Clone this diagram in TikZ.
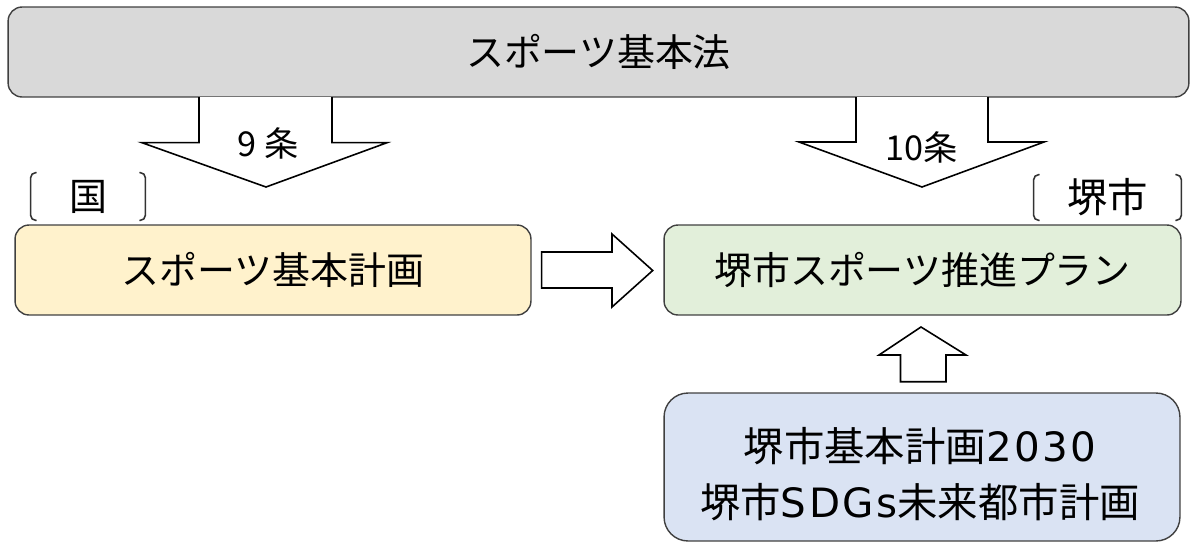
\documentclass[tikz,border=0pt]{standalone}
\usepackage{fontspec}
\setmainfont{Noto Sans CJK JP}
\newfontfamily\latinfont[LetterSpace=6]{DejaVu Sans}
\newcommand{\lat}[1]{{\fontsize{23}{31.9}\latinfont #1}}
\usetikzlibrary{calc, positioning}

\definecolor{grayfill}{HTML}{D9D9D9}
\definecolor{yellowfill}{HTML}{FFF2CC}
\definecolor{greenfill}{HTML}{E2EFDA}
\definecolor{bluefill}{HTML}{DAE3F3}

\begin{document}
\begin{tikzpicture}[
	x=0.02cm, y=-0.02cm,
	plan box/.style = {draw=black!75, line width=0.8pt, rounded corners=0.28cm, minimum height=1.8cm, inner sep=0pt, font=\fontsize{21.6}{31.9}\selectfont},
	block arrow/.style = {draw=black, fill=white, line width=0.9pt, line join=miter},
	article label/.style = {font=\fontsize{19.5}{24}\selectfont, inner sep=0pt},
	level label/.style = {font=\fontsize{21.6}{26}\selectfont, inner sep=0pt},
	bracket/.style = {draw=black!80, line width=0.9pt, rounded corners=0.1cm}
]

\useasboundingbox (0,0) rectangle (1197,542);

% boxes
\node[plan box, fill=grayfill, minimum width=23.62cm] (law) at (598.5,52) {スポーツ基本法};
\node[plan box, fill=yellowfill, minimum width=10.32cm] (national) at (273,270) {スポーツ基本計画};
\node[plan box, fill=greenfill, minimum width=10.34cm] (city) at (922.5,270) {堺市スポーツ推進プラン};
\node[plan box, fill=bluefill, minimum width=10.32cm, minimum height=2.96cm, rounded corners=0.48cm] (sdgs) at (922,467) {};
\node[align=center, inner sep=0pt, font=\fontsize{23}{31.9}\selectfont] (sdgs text) at (920,474) {堺市基本計画\lat{2030}\\堺市\lat{SDGs}未来都市計画};

% block arrows
\draw[block arrow] (199,97) -- (199,142.7) -- (142,142.7) -- (266,187) -- (387,142.7) -- (332,142.7) -- (332,97);
\draw[block arrow] (856,97) -- (856,142) -- (799,142) -- (922,187) -- (1044,142) -- (988,142) -- (988,97);
\draw[block arrow] (541.7,252) -- (612,252) -- (612,234) -- (652.7,270.5) -- (612,307) -- (612,288) -- (541.7,288) -- cycle;
\draw[block arrow] (900.5,381.7) -- (900.5,355) -- (879,355) -- (921,327) -- (966,355) -- (946,355) -- (946,381.7) -- cycle;

\node[article label] (art9) at (268,143) {9 条};
\node[article label] (art10) at (922,147) {10条};

% bracket labels
\node[level label, minimum width=2.28cm, minimum height=0.94cm] (kuni) at (88,196.5) {国};
\draw[bracket] ([xshift=0.12cm]kuni.north west) -- (kuni.north west) -- (kuni.south west) -- ([xshift=0.12cm]kuni.south west);
\draw[bracket] ([xshift=-0.12cm]kuni.north east) -- (kuni.north east) -- (kuni.south east) -- ([xshift=-0.12cm]kuni.south east);

\node[level label, font=\fontsize{23}{26}\selectfont, minimum width=2.94cm, minimum height=0.9cm] (sakai) at (1107.5,197.5) {堺市};
\draw[bracket] ([xshift=0.12cm]sakai.north west) -- (sakai.north west) -- (sakai.south west) -- ([xshift=0.12cm]sakai.south west);
\draw[bracket] ([xshift=-0.12cm]sakai.north east) -- (sakai.north east) -- (sakai.south east) -- ([xshift=-0.12cm]sakai.south east);

\end{tikzpicture}
\end{document}
